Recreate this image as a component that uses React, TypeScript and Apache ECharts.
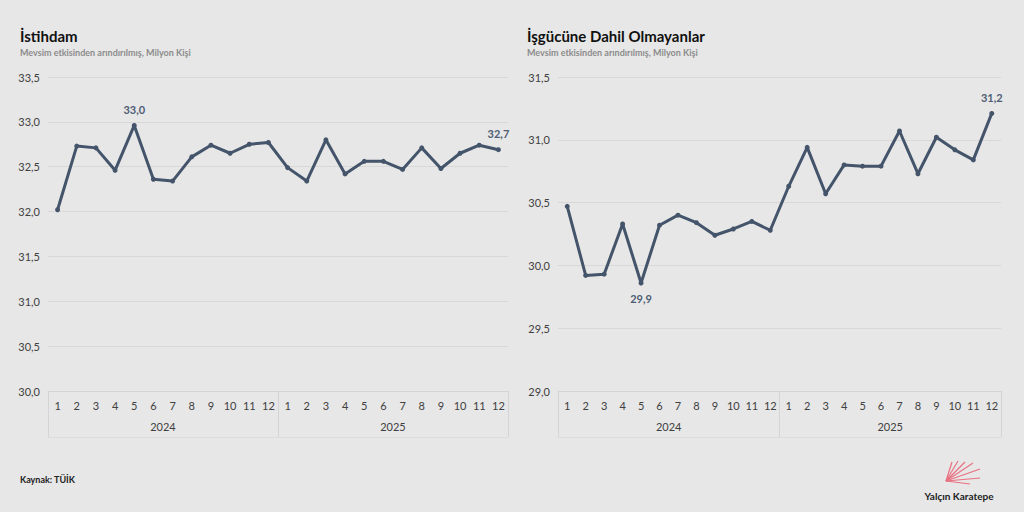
import React, { useEffect, useRef } from "react";
import * as echarts from "echarts";

const months = ["1","2","3","4","5","6","7","8","9","10","11","12","1","2","3","4","5","6","7","8","9","10","11","12"];
const years = ["2024", "2025"];
const employment = [32.02,32.73,32.71,32.46,32.96,32.36,32.34,32.61,32.74,32.65,32.75,32.77,32.49,32.34,32.80,32.42,32.56,32.56,32.47,32.71,32.48,32.65,32.74,32.69];
const outsideLabor = [30.47,29.92,29.93,30.33,29.86,30.32,30.40,30.34,30.24,30.29,30.35,30.28,30.63,30.94,30.57,30.80,30.79,30.79,31.07,30.73,31.02,30.92,30.84,31.21];
const employmentLabels: [number, string][] = [[4, "top"], [23, "top"]];
const outsideLabels: [number, string][] = [[4, "bottom"], [23, "top"]];

const LINE = "#44546a";
const FONT = "Lato, 'Open Sans', sans-serif";
const fmt = (v: number) => v.toFixed(1).replace(".", ",");

function buildData(values: number[], labels: [number, string][]) {
  return values.map((v, i) => {
    const l = labels.find((x) => x[0] === i);
    if (!l) return v;
    return {
      value: v,
      label: {
        show: true,
        position: l[1],
        distance: 8,
        color: "#4e5d73",
        fontWeight: "bold",
        fontSize: 11,
        fontFamily: FONT,
        formatter: (p: any) => fmt(p.value),
      },
    };
  });
}

export default function App() {
  const ref = useRef<HTMLDivElement>(null);
  useEffect(() => {
    const chart = echarts.init(ref.current!, null, { renderer: "svg" });
    const monthAxis = (gi: number) => ({
      type: "category",
      gridIndex: gi,
      data: months,
      boundaryGap: true,
      axisLine: { show: true, lineStyle: { color: "#d4d4d4" } },
      axisTick: { show: false },
      axisLabel: { interval: 0, color: "#404040", fontSize: 11, fontFamily: FONT, margin: 9 },
    });
    const yearAxis = (gi: number) => ({
      type: "category",
      gridIndex: gi,
      data: years,
      position: "bottom",
      offset: 46,
      boundaryGap: true,
      axisLine: { show: true, lineStyle: { color: "#dcdcdc" } },
      axisTick: { show: true, inside: true, length: 46, interval: 0, alignWithLabel: false, lineStyle: { color: "#d4d4d4" } },
      axisLabel: { inside: true, interval: 0, color: "#404040", fontSize: 11, fontFamily: FONT, margin: 5 },
    });
    const yAxis = (gi: number, min: number, max: number) => ({
      type: "value",
      gridIndex: gi,
      min,
      max,
      interval: 0.5,
      axisLine: { show: false },
      axisTick: { show: false },
      splitLine: { lineStyle: { color: "#d8d8d8" } },
      axisLabel: { color: "#404040", fontSize: 11, fontFamily: FONT, margin: 8, formatter: (v: number) => fmt(v) },
    });
    const series = (xi: number, yi: number, data: any[]) => ({
      type: "line",
      xAxisIndex: xi,
      yAxisIndex: yi,
      data,
      symbol: "circle",
      symbolSize: 5,
      lineStyle: { color: LINE, width: 3 },
      itemStyle: { color: LINE },
      label: { show: false },
    });
    const fan = [[952, 462], [958, 461], [965, 462], [973, 463], [980, 469], [980, 478], [970, 484]];
    const titleStyle = { fontSize: 15, fontWeight: "bold", color: "#111", fontFamily: FONT };
    const subStyle = { fontSize: 9, fontWeight: "bold", color: "#8c8c8c", fontFamily: FONT };
    chart.setOption({
      animation: false,
      backgroundColor: "#e7e7e7",
      title: [
        { text: "İstihdam", left: 20, top: 28, padding: 0, textStyle: titleStyle },
        { text: "Mevsim etkisinden arındırılmış, Milyon Kişi", left: 20, top: 48, padding: 0, textStyle: subStyle },
        { text: "İşgücüne Dahil Olmayanlar", left: 527, top: 28, padding: 0, textStyle: titleStyle },
        { text: "Mevsim etkisinden arındırılmış, Milyon Kişi", left: 527, top: 48, padding: 0, textStyle: subStyle },
        { text: "Kaynak: TÜİK", left: 20, top: 475, padding: 0, textStyle: { fontSize: 9, fontWeight: "bold", color: "#222", fontFamily: FONT } },
      ],
      grid: [
        { left: 48, right: 516, top: 77, bottom: 121 },
        { left: 558, right: 23, top: 77, bottom: 121 },
      ],
      xAxis: [monthAxis(0), yearAxis(0), monthAxis(1), yearAxis(1)],
      yAxis: [yAxis(0, 30, 33.5), yAxis(1, 29, 31.5)],
      series: [
        series(0, 0, buildData(employment, employmentLabels)),
        series(2, 1, buildData(outsideLabor, outsideLabels)),
      ],
      graphic: [
        ...fan.map(([x, y]) => ({
          type: "line",
          shape: { x1: 946, y1: 481, x2: x, y2: y },
          style: { stroke: "#e87080", lineWidth: 1.2 },
        })),
        {
          type: "text",
          x: 959,
          y: 496,
          style: { text: "Yalçın Karatepe", fill: "#222", font: `bold 10px ${FONT}`, align: "center", verticalAlign: "middle" },
        },
      ],
    });
    return () => chart.dispose();
  }, []);
  return <div ref={ref} style={{ width: 1024, height: 512, position: "absolute", left: 0, top: 0 }} />;
}
